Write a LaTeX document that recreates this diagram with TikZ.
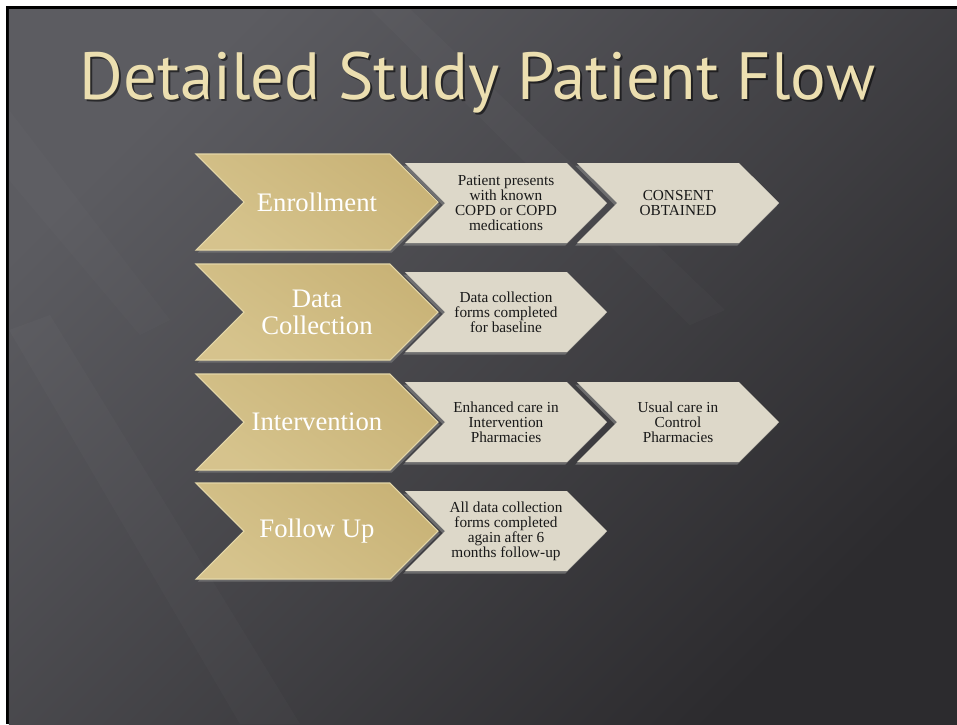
\documentclass[tikz,border=0pt]{standalone}
\usepackage{fontspec}
\setmainfont{Liberation Serif}
\newfontfamily\titlefont{PT Sans}
\usetikzlibrary{shapes.symbols,shadows}
\definecolor{bglight}{HTML}{5C5C61}
\definecolor{bgdark}{HTML}{2C2B2E}
\definecolor{goldlight}{HTML}{E9DCAD}
\definecolor{golddark}{HTML}{C9B377}
\definecolor{goldedge}{HTML}{E4D7A8}
\definecolor{stepfill}{HTML}{DDD8C9}
\definecolor{titlecol}{HTML}{ECDFB0}
\begin{document}
\begin{tikzpicture}[
    goldchev/.style={signal,signal from=west,signal to=east,signal pointer angle=90,
      minimum width=4.84cm,minimum height=1.92cm,inner xsep=0pt,
      left color=golddark,middle color=goldlight,right color=golddark!60!goldlight,shading angle=-35,
      draw=goldedge,line width=.6pt,text=white,align=center,
      font=\fontsize{15.2}{15.5}\selectfont,
      drop shadow={shadow xshift=1pt,shadow yshift=-1.5pt,opacity=.6}},
    stepchev/.style={signal,signal from=west,signal to=east,signal pointer angle=90,
      minimum width=4.04cm,minimum height=1.6cm,inner xsep=0pt,
      fill=stepfill,text=black!90,align=center,
      font=\fontsize{8.7}{8.6}\selectfont,
      drop shadow={shadow xshift=-1pt,shadow yshift=-1.5pt,opacity=.7}}]
  \useasboundingbox (0,0) rectangle (19.14,-14.48);
  \fill[white] (0,0) rectangle (19.14,-14.48);
  \fill[black] (0.12,-0.12) rectangle (19.14,-14.48);
  \shade[top color=bglight,bottom color=bgdark,shading angle=45] (0.18,-0.18) rectangle (19.14,-14.48);
  % streaks
  \fill[white,opacity=.02] (7.4,-0.18) -- (8.2,-0.18) -- (14.5,-6.2) -- (13.8,-6.5) -- cycle;
  \fill[white,opacity=.02] (0.18,-6.6) -- (1.0,-6.3) -- (6.0,-14.48) -- (4.8,-14.48) -- cycle;
  \fill[white,opacity=.015] (0.18,-2.2) -- (3.4,-6.4) -- (2.8,-6.7) -- (0.18,-3.6) -- cycle;
  % title
  \node[anchor=base,text=black,opacity=.55,font=\titlefont\fontsize{38}{40}\selectfont]
    (titleshadow) at (9.59,-2.03) {Detailed Study Patient Flow};
  \node[anchor=base,text=titlecol,font=\titlefont\fontsize{38}{40}\selectfont]
    (title) at (9.55,-1.98) {Detailed Study Patient Flow};

  \node[goldchev] (enroll) at (6.34,-4.04) {Enrollment};
  \node[stepchev] (enroll1) at (10.12,-4.06) {Patient presents\\with known\\COPD or COPD\\medications};
  \node[stepchev] (enroll2) at (13.56,-4.06) {CONSENT\\OBTAINED};

  \node[goldchev] (data) at (6.34,-6.24) {Data\\Collection};
  \node[stepchev] (data1) at (10.12,-6.24) {Data collection\\forms completed\\for baseline};

  \node[goldchev] (interv) at (6.34,-8.44) {Intervention};
  \node[stepchev] (interv1) at (10.12,-8.44) {Enhanced care in\\Intervention\\Pharmacies};
  \node[stepchev] (interv2) at (13.56,-8.44) {Usual care in\\Control\\Pharmacies};

  \node[goldchev] (follow) at (6.34,-10.62) {Follow Up};
  \node[stepchev] (follow1) at (10.12,-10.62) {All data collection\\forms completed\\again after 6\\months follow-up};
\end{tikzpicture}
\end{document}
